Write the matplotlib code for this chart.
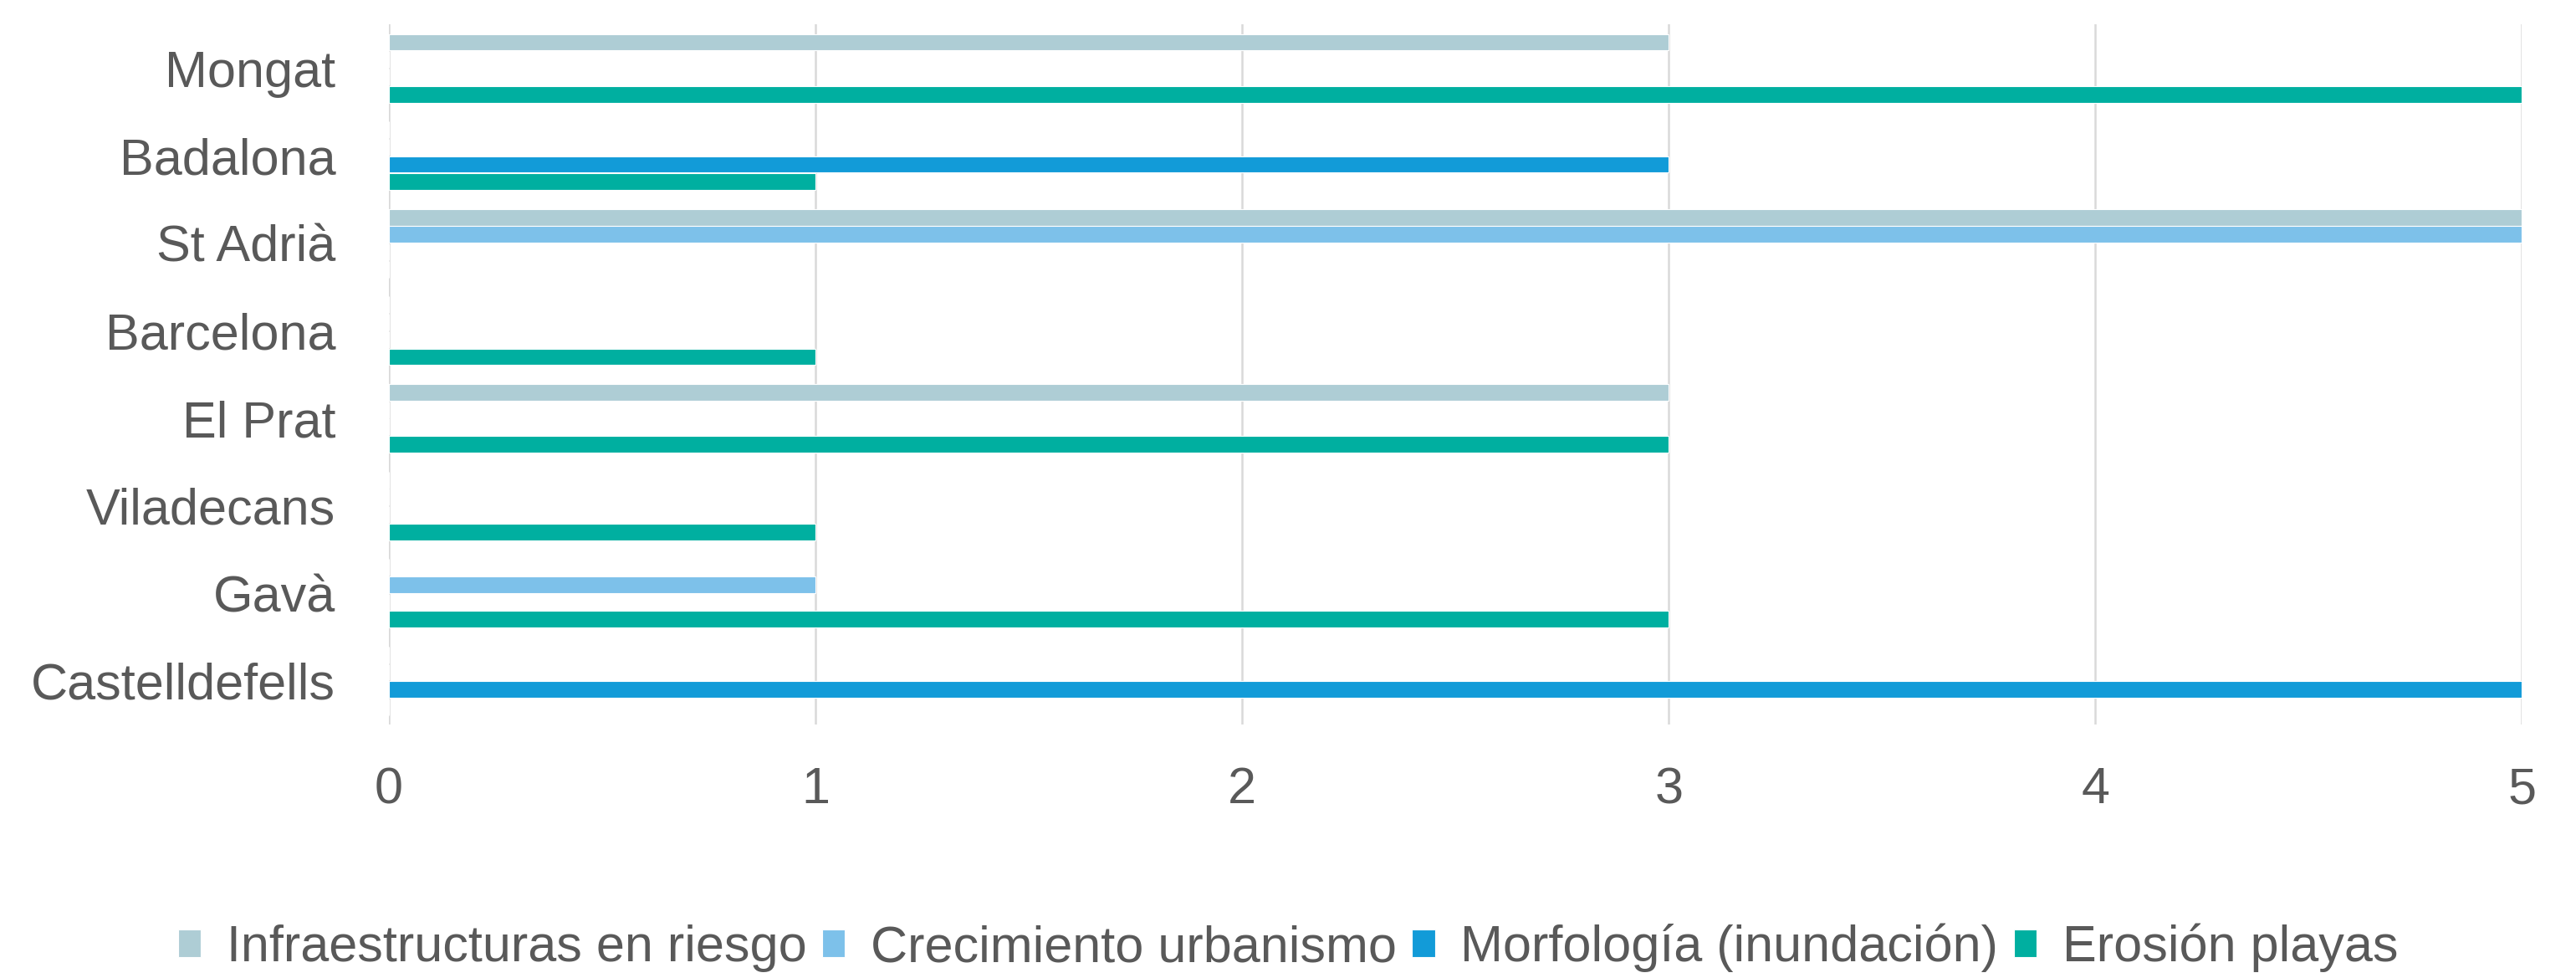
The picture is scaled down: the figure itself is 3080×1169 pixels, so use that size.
import numpy as np
from matplotlib import pyplot as plt

# categories bottom -> top
municipios = ["Castelldefells", "Gavà", "Viladecans", "El Prat",
              "Barcelona", "St Adrià", "Badalona", "Mongat"]

infraestructuras = [0, 0, 0, 3, 0, 5, 0, 3]
crecimiento = [0, 1, 0, 0, 0, 5, 0, 0]
morfologia = [5, 0, 0, 0, 0, 0, 3, 0]
erosion = [0, 3, 1, 3, 1, 0, 1, 5]

series_names = ["Infraestructuras en riesgo", "Crecimiento urbanismo",
                "Morfología (inundación)", "Erosión playas"]
series_colors = ["#AECDD5", "#7DC1EA", "#129BD8", "#00AFA0"]
x_ticks = [0, 1, 2, 3, 4, 5]

TEXT = "#595959"
plt.rcParams['font.family'] = ['Liberation Sans', 'DejaVu Sans']

fig = plt.figure(figsize=(30.8, 11.69), dpi=100)
ax = fig.add_axes([0.151, 0.259, 0.828, 0.716])

y = np.arange(len(municipios))
pitch = 0.198
height = 0.19
all_series = [infraestructuras, crecimiento, morfologia, erosion]
for i, (vals, name, col) in enumerate(zip(all_series, series_names, series_colors)):
    ax.barh(y + (1.5 - i) * pitch, vals, height=height, color=col, label=name,
            edgecolor="white", linewidth=0.8, zorder=3)

ax.set_xlim(0, 5)
ax.set_ylim(-0.5, len(municipios) - 0.5)
ax.set_xticks(x_ticks)
ax.set_yticks(y)
ax.set_yticklabels(municipios)
ax.grid(axis="x", color="#D9D9D9", linewidth=1.8, zorder=0)
for s in ax.spines.values():
    s.set_visible(False)
ax.tick_params(axis="both", length=0, labelsize=44, colors=TEXT)
ax.tick_params(axis="y", pad=46)
ax.tick_params(axis="x", pad=36)

leg = fig.legend(loc="center", bbox_to_anchor=(0.5, 0.031), ncol=4, frameon=False,
                 fontsize=44, handlelength=0.45, handleheight=0.45,
                 handletextpad=0.5, columnspacing=0.3)
for t in leg.get_texts():
    t.set_color(TEXT)

fig.savefig("out.png", dpi=100)
